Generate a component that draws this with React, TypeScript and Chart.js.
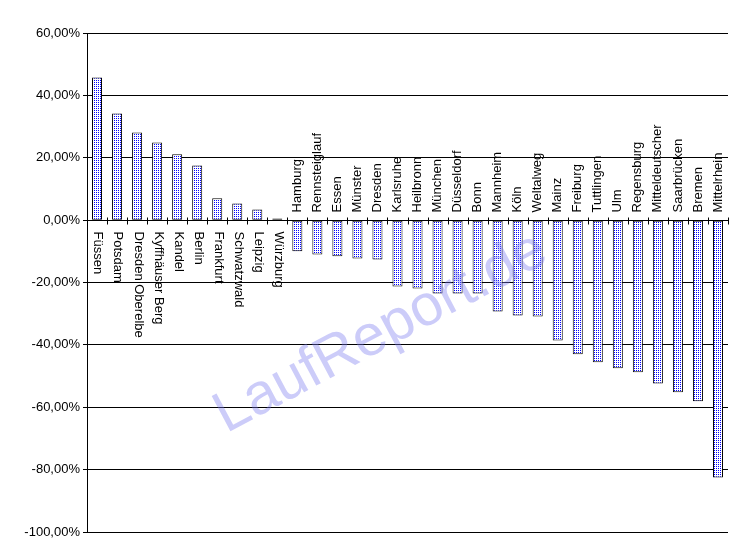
import React, { useEffect, useRef } from "react";
import { Chart, registerables } from "chart.js";

Chart.register(...registerables);

const categories: string[] = [
  "Füssen", "Potsdam", "Dresden Oberelbe", "Kyffhäuser Berg", "Kandel", "Berlin",
  "Frankfurt", "Schwatzwald", "Leipzig", "Würzburg", "Hamburg", "Rennsteiglauf",
  "Essen", "Münster", "Dresden", "Karlsruhe", "Heilbronn", "München", "Düsseldorf",
  "Bonn", "Mannheim", "Köln", "Weltalweg", "Mainz", "Freiburg", "Tuttlingen", "Ulm",
  "Regensburg", "Mitteldeutscher", "Saarbrücken", "Bremen", "Mittelrhein",
];

const changes: number[] = [
  45.7, 34.2, 28.1, 24.9, 21.1, 17.5, 7.0, 5.3, 3.4, 0.5,
  -10.0, -11.0, -11.6, -12.3, -12.6, -21.3, -21.9, -23.5, -23.5, -23.5,
  -29.3, -30.6, -30.9, -38.6, -43.0, -45.6, -47.5, -48.8, -52.4, -55.2,
  -58.1, -82.5,
];

const yMin = -100;
const yMax = 60;
const yStep = 20;
const watermark = "LaufReport.de";

const FONT = "'Liberation Sans', Arial, sans-serif";

function makePattern(): CanvasPattern | string {
  const pc = document.createElement("canvas");
  pc.width = 2;
  pc.height = 2;
  const pctx = pc.getContext("2d");
  if (!pctx) return "#8080ff";
  pctx.fillStyle = "#ffffff";
  pctx.fillRect(0, 0, 2, 2);
  pctx.fillStyle = "#0000ff";
  pctx.fillRect(0, 0, 1, 1);
  const p = pctx.createPattern(pc, "repeat");
  return p || "#8080ff";
}

const overlayPlugin = {
  id: "overlay",
  afterDatasetsDraw(chart: any) {
    const ctx: CanvasRenderingContext2D = chart.ctx;
    const x = chart.scales.x;
    const y = chart.scales.y;
    const area = chart.chartArea;
    const zero = Math.round(y.getPixelForValue(0)) + 0.5;
    ctx.save();
    // category axis line at zero
    ctx.strokeStyle = "#000";
    ctx.lineWidth = 1;
    ctx.beginPath();
    ctx.moveTo(area.left, zero);
    ctx.lineTo(area.right, zero);
    const n = categories.length;
    const cw = (area.right - area.left) / n;
    for (let i = 0; i <= n; i++) {
      const px = Math.round(area.left + cw * i) + 0.5;
      ctx.moveTo(px, zero - 3);
      ctx.lineTo(px, zero + 4);
    }
    ctx.stroke();

    // category labels
    ctx.fillStyle = "#000";
    ctx.font = `13px ${FONT}`;
    ctx.textBaseline = "middle";
    ctx.textAlign = "left";
    categories.forEach((c, i) => {
      const cx = x.getPixelForValue(i);
      ctx.save();
      if (changes[i] >= 0) {
        ctx.translate(cx + 1, zero + 11);
        ctx.rotate(Math.PI / 2);
      } else {
        ctx.translate(cx, zero - 8);
        ctx.rotate(-Math.PI / 2);
      }
      ctx.fillText(c, 0, 0);
      ctx.restore();
    });

    // watermark
    ctx.save();
    ctx.translate(381, 333);
    ctx.rotate((-28 * Math.PI) / 180);
    ctx.font = `58px ${FONT}`;
    ctx.textAlign = "center";
    ctx.textBaseline = "middle";
    (ctx as any).filter = "blur(0.6px)";
    ctx.fillStyle = "rgba(120,120,240,0.38)";
    ctx.fillText(watermark, 0, 0);
    ctx.restore();
    ctx.restore();
  },
};

export default function App() {
  const ref = useRef<HTMLCanvasElement | null>(null);
  useEffect(() => {
    document.body.style.margin = "0";
    const canvas = ref.current;
    if (!canvas) return;
    const chart = new Chart(canvas, {
      type: "bar",
      data: {
        labels: categories,
        datasets: [
          {
            data: changes,
            backgroundColor: makePattern() as any,
            borderColor: "#000",
            borderWidth: 1,
            borderSkipped: false,
            barPercentage: 0.5,
            categoryPercentage: 1,
          },
        ],
      },
      options: {
        responsive: false,
        animation: false,
        devicePixelRatio: 1,
        layout: { padding: { top: 33, right: 24, bottom: 24, left: 0 } },
        plugins: {
          legend: { display: false },
          tooltip: { enabled: false },
        },
        scales: {
          x: { type: "category", display: false, offset: true },
          y: {
            min: yMin,
            max: yMax,
            afterFit: (s: any) => {
              s.width = 87;
            },
            ticks: {
              stepSize: yStep,
              padding: 3,
              color: "#000",
              font: { family: FONT, size: 13 },
              callback: (v: any) => `${Number(v).toFixed(2).replace(".", ",")}%`,
            },
            grid: { color: "#000", lineWidth: 1, tickLength: 4, drawTicks: true },
            border: { display: true, color: "#000", width: 1 },
          },
        },
      },
      plugins: [overlayPlugin],
    });
    return () => chart.destroy();
  }, []);
  return (
    <div style={{ position: "absolute", left: 0, top: 0, width: 752, height: 556, background: "#fff" }}>
      <canvas ref={ref} width={752} height={556} />
    </div>
  );
}
